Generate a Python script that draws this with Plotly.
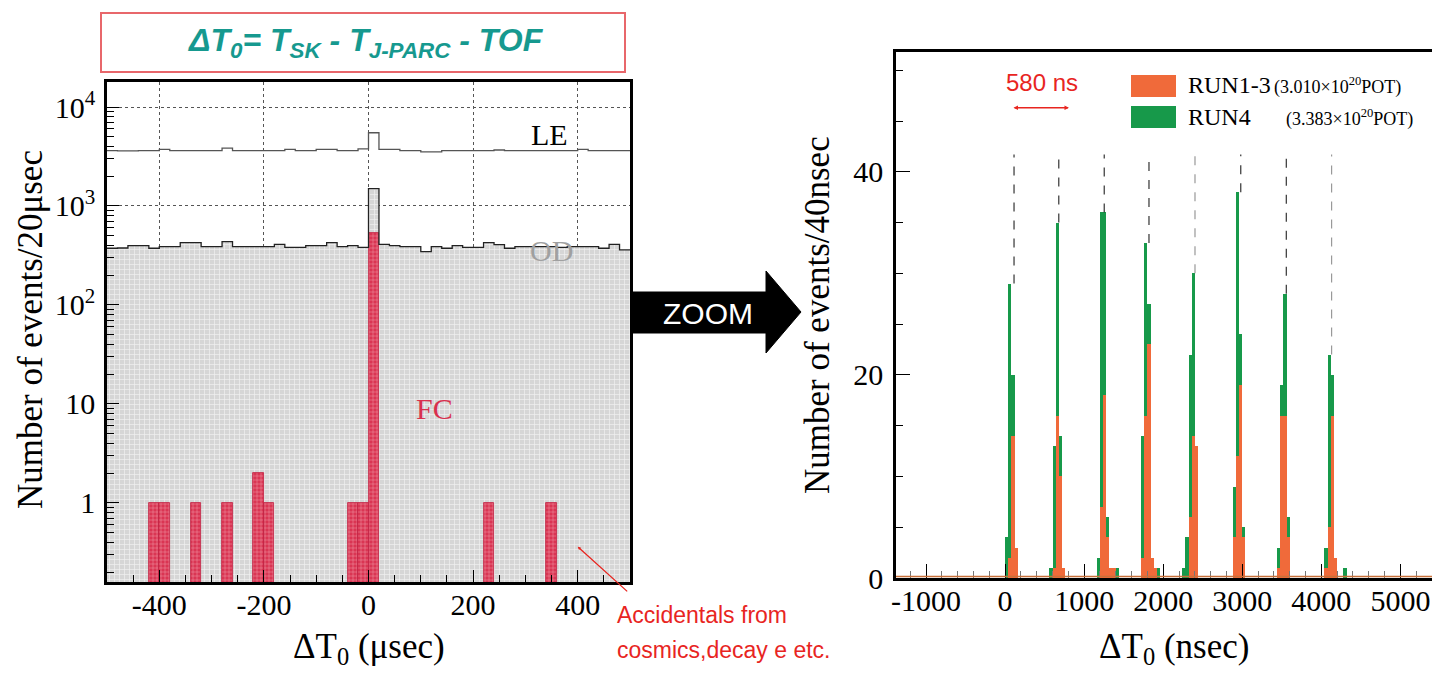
import math
import plotly.graph_objects as go

W, H = 1432, 673


def px(x):
    return x / W


def py(y):
    return 1 - y / H


# ---------------- Left panel data: 20 usec bins from -500 to 500 usec ----------------
left_bin_edges = [-500 + 20 * i for i in range(51)]
le_counts = [3620, 3600, 3600, 3620, 3620, 3730, 3620, 3620, 3620, 3620,
             3620, 3850, 3620, 3620, 3620, 3620, 3620, 3730, 3620, 3620,
             3730, 3730, 3620, 3620, 3780, 5500, 3735, 3735, 3620, 3620,
             3520, 3520, 3620, 3620, 3620, 3620, 3620, 3680, 3620, 3620,
             3620, 3620, 3620, 3620, 3620, 3735, 3620, 3620, 3620, 3620]
od_counts = [374, 376, 397, 397, 374, 388, 388, 426, 426, 388,
             388, 436, 388, 388, 388, 388, 410, 382, 382, 397,
             397, 426, 388, 397, 382, 1500, 410, 397, 388, 388,
             345, 388, 374, 397, 382, 382, 426, 407, 374, 388,
             388, 388, 388, 382, 388, 388, 388, 374, 410, 360]
fc_counts = [0, 0, 0, 0, 1, 1, 0, 0, 1, 0,
             0, 1, 0, 0, 2, 1, 0, 0, 0, 0,
             0, 0, 0, 1, 1, 530, 0, 0, 0, 0,
             0, 0, 0, 0, 0, 0, 1, 0, 0, 0,
             0, 0, 1, 0, 0, 0, 0, 0, 0, 0]
left_xticks = [-400, -200, 0, 200, 400]
left_xticktext = ["-400", "-200", "0", "200", "400"]
left_yticks = [1, 10, 100, 1000, 10000]
left_yticktext = ["1", "10", "10<sup>2</sup>", "10<sup>3</sup>", "10<sup>4</sup>"]

# ---------------- Right panel data: 40 nsec bins ----------------
right_bin_left = [0, 40, 80, 120,
                  560, 600, 640, 680, 720,
                  1160, 1200, 1240, 1280, 1320, 1360, 1400,
                  1720, 1760, 1800, 1840, 1880, 1920,
                  2240, 2280, 2320, 2360, 2400,
                  2880, 2920, 2960, 3000,
                  3440, 3480, 3520, 3560,
                  4040, 4080, 4120, 4160, 4280]
run13_counts = [0, 2, 14, 3,
                0, 1, 16, 10, 1,
                0, 7, 18, 4, 1, 1, 0,
                2, 16, 23, 2, 1, 0,
                0, 0, 6, 14, 13,
                4, 12, 19, 4,
                1, 16, 16, 4,
                1, 5, 16, 2, 0]
run4_counts = [4, 27, 6, 0,
               1, 12, 19, 4, 0,
               2, 29, 18, 2, 0, 0, 1,
               12, 17, 4, 0, 0, 1,
               1, 4, 16, 16, 0,
               5, 26, 5, 1,
               2, 3, 12, 2,
               2, 17, 4, 0, 1]
bunch_marks = [113, 679, 1254, 1820, 2402, 2981, 3557, 4130]
bunch_mark_dark = [True, True, True, True, False, True, True, False]
BUNCH_MARK_TOP = 41.7
right_xticks = [-1000, 0, 1000, 2000, 3000, 4000, 5000]
right_xticktext = ["-1000", "0", "1000", "2000", "3000", "4000", "5000"]
right_yticks = [0, 20, 40]

ORANGE = "#F06A3A"
GREEN = "#17994A"
RED = "#E8251F"
SERIF = "Liberation Serif"
SANS = "Liberation Sans"

fig = go.Figure()

# ---- left panel ----
left_centers = [(left_bin_edges[i] + left_bin_edges[i + 1]) / 2 for i in range(len(od_counts))]
fig.add_trace(go.Bar(
    x=left_centers, y=od_counts, width=20, xaxis="x", yaxis="y",
    marker=dict(color="#d9d9d9", line=dict(width=0),
                pattern=dict(shape="+", fillmode="replace", bgcolor="#d6d6d6",
                             fgcolor="#f2f2f2", size=5, solidity=0.25)),
    hoverinfo="skip"))
fig.add_trace(go.Bar(
    x=left_centers, y=[v if v > 0 else None for v in fc_counts], width=20,
    xaxis="x", yaxis="y",
    marker=dict(color="#D8304E", line=dict(width=0.8, color="#C02040"),
                pattern=dict(shape="+", fillmode="replace", bgcolor="#DA3553",
                             fgcolor="#F4A6B6", size=4, solidity=0.2)),
    hoverinfo="skip"))
fig.add_trace(go.Scatter(
    x=left_bin_edges, y=od_counts + [od_counts[-1]], mode="lines",
    line=dict(shape="hv", color="#222", width=1.3), xaxis="x", yaxis="y",
    hoverinfo="skip"))
fig.add_trace(go.Scatter(
    x=left_bin_edges, y=le_counts + [le_counts[-1]], mode="lines",
    line=dict(shape="hv", color="#555", width=1.3), xaxis="x", yaxis="y",
    hoverinfo="skip"))

# ---- right panel ----
right_centers = [b + 20 for b in right_bin_left]
fig.add_trace(go.Bar(
    x=right_centers, y=run4_counts, base=run13_counts, width=40,
    xaxis="x2", yaxis="y2", marker=dict(color=GREEN, line=dict(width=0)),
    hoverinfo="skip"))
fig.add_trace(go.Bar(
    x=right_centers, y=run13_counts, width=40,
    xaxis="x2", yaxis="y2", marker=dict(color=ORANGE, line=dict(width=0)),
    hoverinfo="skip"))

totals = [a + b for a, b in zip(run13_counts, run4_counts)]
for dark in (True, False):
    xs, ys = [], []
    for m, d in zip(bunch_marks, bunch_mark_dark):
        if d != dark:
            continue
        low = max(t for c, t in zip(right_centers, totals) if abs(c - m) < 60)
        xs += [m, m, None]
        ys += [low, BUNCH_MARK_TOP, None]
    fig.add_trace(go.Scatter(
        x=xs, y=ys, mode="lines", xaxis="x2", yaxis="y2",
        line=dict(color="#333" if dark else "#999", width=1.2, dash="dash"),
        hoverinfo="skip"))

# ---- axes ----
minor_log = [m * 10 ** e for e in range(-1, 4) for m in range(2, 10)]
fig.update_layout(
    width=W, height=H,
    margin=dict(l=0, r=0, t=0, b=0),
    paper_bgcolor="white", plot_bgcolor="white",
    showlegend=False, barmode="overlay", bargap=0,
    xaxis=dict(domain=[px(107), px(630)], range=[-500, 500], anchor="y",
               tickmode="array", tickvals=left_xticks, ticktext=left_xticktext,
               ticks="inside", ticklen=12, tickwidth=1.3, tickcolor="black",
               minor=dict(ticks="inside", ticklen=7, dtick=50, tick0=0,
                          tickcolor="black", showgrid=False),
               showgrid=True, gridcolor="#555", griddash="dot", gridwidth=1,
               showline=True, linecolor="black", linewidth=2.5, mirror=True,
               zeroline=False, layer="above traces", automargin=False,
               ticklabelstandoff=-6,
               tickfont=dict(family=SERIF, size=30, color="black")),
    yaxis=dict(domain=[py(582), py(82)], type="log", range=[-0.8, 4.253],
               anchor="x", tickmode="array", tickvals=left_yticks,
               ticktext=left_yticktext,
               ticks="inside", ticklen=12, tickwidth=1.3, tickcolor="black",
               minor=dict(ticks="inside", ticklen=7, tickmode="array",
                          tickvals=minor_log, tickcolor="black", showgrid=False),
               showgrid=True, gridcolor="#555", griddash="dot", gridwidth=1,
               showline=True, linecolor="black", linewidth=2.5, mirror=True,
               zeroline=False, layer="above traces", automargin=False,
               ticklabelstandoff=3,
               tickfont=dict(family=SERIF, size=30, color="black")),
    xaxis2=dict(domain=[px(896), 1.0], range=[-1380, 5400], anchor="y2",
                tickmode="array", tickvals=right_xticks, ticktext=right_xticktext,
                ticks="inside", ticklen=14, tickwidth=1.3, tickcolor="black",
                minor=dict(ticks="inside", ticklen=7, dtick=200, tick0=0,
                           tickcolor="#777", showgrid=False),
                showgrid=False, showline=True, linecolor="black", linewidth=2.5,
                mirror=True, zeroline=False, automargin=False,
                ticklabelstandoff=-6,
                tickfont=dict(family=SERIF, size=30, color="black")),
    yaxis2=dict(domain=[py(578), py(52)], range=[0, 51.8], anchor="x2",
                tickmode="array", tickvals=right_yticks,
                ticks="inside", ticklen=14, tickwidth=1.3, tickcolor="black",
                minor=dict(ticks="inside", ticklen=7, dtick=5, tick0=0,
                           tickcolor="black", showgrid=False),
                showgrid=False, showline=True, linecolor="black", linewidth=2.5,
                mirror=True, zeroline=False, automargin=False,
                ticklabelstandoff=4,
                tickfont=dict(family=SERIF, size=30, color="black")),
)

# ---- decorations ----
zoom_pts = [(633, 292), (766, 292), (766, 271), (801, 312), (766, 353), (766, 333), (633, 333)]
zoom_path = "M " + " L ".join(f"{px(x):.5f},{py(y):.5f}" for x, y in zoom_pts) + " Z"
fig.update_layout(shapes=[
    dict(type="rect", xref="paper", yref="paper", x0=px(101), x1=px(625),
         y0=py(72), y1=py(13), line=dict(color="#E8676B", width=2), fillcolor="white"),
    dict(type="path", xref="paper", yref="paper", path=zoom_path,
         fillcolor="black", line=dict(color="black", width=1)),
    dict(type="rect", xref="paper", yref="paper", x0=px(1131), x1=px(1176),
         y0=py(97), y1=py(75), fillcolor=ORANGE, line=dict(width=0)),
    dict(type="rect", xref="paper", yref="paper", x0=px(1131), x1=px(1176),
         y0=py(128), y1=py(106), fillcolor=GREEN, line=dict(width=0)),
    dict(type="line", xref="x2", yref="y2", x0=-1380, x1=5400, y0=0.15, y1=0.15,
         line=dict(color="#C8703A", width=1.5)),
])

ann = []


def text(x, y, s, size, color="black", family=SERIF, angle=0, xanchor="center", yanchor="middle"):
    ann.append(dict(x=px(x), y=py(y), xref="paper", yref="paper", text=s,
                    showarrow=False, textangle=angle, xanchor=xanchor, yanchor=yanchor,
                    font=dict(family=family, size=size, color=color)))


text(366, 42, "<b><i>ΔT<sub>0</sub>= T<sub>SK</sub> - T<sub>J-PARC</sub> - TOF</i></b>",
     32, "#16998F", SANS)
text(30, 330, "Number of events/20μsec", 35, angle=-90)
text(369, 648, "ΔT<sub>0</sub> (μsec)", 35)
text(817, 315, "Number of events/40nsec", 35, angle=-90)
text(1174, 648, "ΔT<sub>0</sub> (nsec)", 35)
text(549, 135, "LE", 30)
text(551, 250, "OD", 30, "#A0A0A0")
text(435, 409, "FC", 30, "#D8304E")
text(708, 313, "ZOOM", 30, "white", SANS)
text(1042, 82, "580 ns", 24, RED, SANS)
text(1186, 85, "RUN1-3", 24, xanchor="left")
text(1272, 86, "(3.010×10<sup>20</sup>POT)", 18, xanchor="left")
text(1186, 117, "RUN4", 24, xanchor="left")
text(1284, 118, "(3.383×10<sup>20</sup>POT)", 18, xanchor="left")
text(615, 615, "Accidentals from", 23, RED, SANS, xanchor="left")
text(615, 650, "cosmics,decay e etc.", 23, RED, SANS, xanchor="left")

# arrows
ann.append(dict(x=808, y=46.3, xref="x2", yref="y2", ax=87, ay=46.3,
                axref="x2", ayref="y2", text="", showarrow=True,
                arrowhead=2, arrowside="end+start", arrowsize=0.6,
                arrowwidth=1.5, arrowcolor=RED))
ann.append(dict(x=400, y=math.log10(0.36), xref="x", yref="y", ax=51, ay=46,
                text="", showarrow=True, arrowhead=2, arrowsize=0.5,
                arrowwidth=1.3, arrowcolor=RED))

fig.update_layout(annotations=ann)
fig.write_html("out.html", config={"displayModeBar": False},
               post_script="document.body.style.margin='0';")
